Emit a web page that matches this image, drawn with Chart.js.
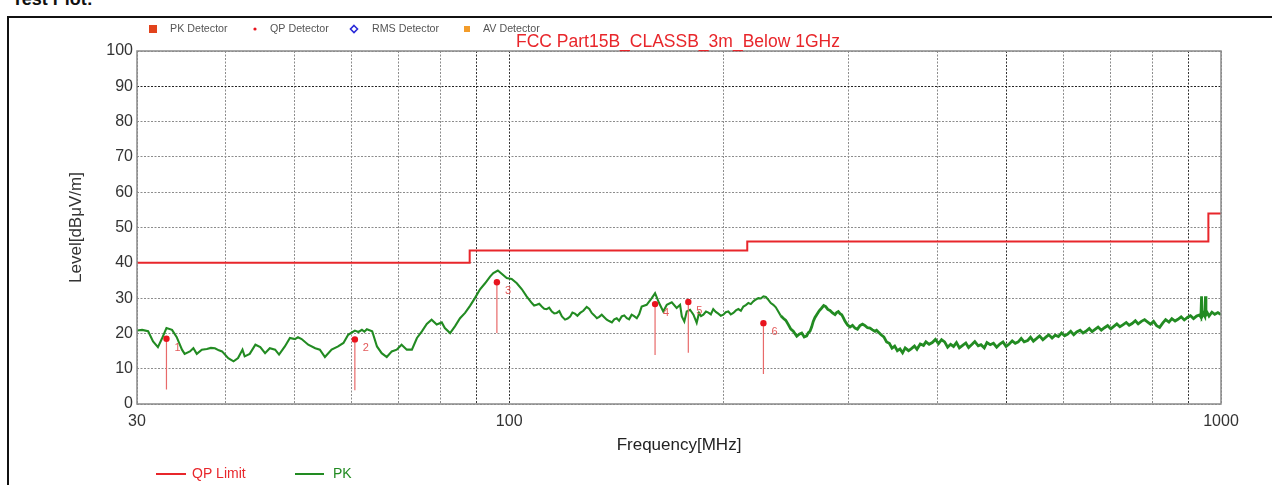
<!DOCTYPE html>
<html>
<head>
<meta charset="utf-8">
<script src="https://cdn.jsdelivr.net/npm/chart.js@4/dist/chart.umd.min.js"></script>
<style>
  body { margin: 0; background: #fff; overflow: hidden; font-family: Arial, "Liberation Sans", sans-serif; }
  #wrap { position: relative; width: 1272px; height: 485px; overflow: hidden; }
  #frame { position: absolute; left: 7px; top: 16px; width: 1300px; height: 520px; border: 2px solid #111; }
  #head { position: absolute; left: 12px; top: -11px; font: bold 18px Arial, "Liberation Sans", sans-serif; color: #111; }
  canvas { position: absolute; left: 0; top: 0; }
</style>
</head>
<body>
<div id="wrap">
  <div id="head">Test Plot:</div>
  <div id="frame"></div>
  <canvas id="grafica" width="1272" height="485"></canvas>
</div>
<script>
// limite QP (escalon)
const limitFreq = [30, 88, 88, 216, 216, 960, 960, 1000];
const limitLevel = [40, 40, 43.5, 43.5, 46, 46, 54, 54];

// traza PK
const pkFreq = [
  30, 30.5, 31.1, 31.6, 32.1, 32.5, 33.0, 33.6, 34.1, 34.7, 35.0, 35.6, 36.0, 36.4, 37.0, 37.6, 38.1, 38.6, 39.1, 39.5,
  40.3, 41.0, 41.6, 42.2, 42.5, 43.2, 44.0, 44.7, 45.4, 46.1, 46.9, 47.5, 48.4, 49.2, 50.0, 50.5, 51.1, 52.2, 53.4,
  54.2, 55.1, 56.3, 57.5, 58.5, 59.4, 60.7, 61.4, 62.1, 62.6, 63.1, 64.2, 65.2, 66.2, 67.3, 68.4, 69.5, 70.6, 71.8, 73.0,
  74.2, 75.4, 76.6, 77.8, 79.1, 80.4, 81.2, 82.6, 83.9, 85.3, 86.7, 88.1, 89.5, 91.0, 92.5, 94.0, 95.0, 96.4,
  97.6, 99.2, 100.8, 102.5, 104.2, 105.8, 107.6,
  108.4, 109.3, 110.2, 111.1, 112.0, 112.9, 113.8, 114.8, 115.7, 116.6, 117.6, 118.6, 119.8, 120.8, 121.8, 122.7,
  123.7, 124.7, 125.8, 127.1, 128.5, 129.6, 130.6, 131.7, 132.8, 133.8, 134.9, 136.0, 137.1, 138.2, 139.4, 140.5,
  141.6, 142.7, 143.9, 145.1, 146.3, 147.4, 148.6, 149.8, 151.1, 152.3, 153.5, 156.0, 158.6, 160.3, 162.4, 164.6,
  166.5, 169.2, 171.9, 173.8, 174.8, 176.2, 177.6, 179.5, 181.5, 183.4, 184.8, 186.0, 187.4, 189.0, 190.5, 192.0,
  193.5, 195.1, 196.7, 198.3, 199.9, 201.5, 203.2, 204.8, 206.5, 208.2, 209.9, 211.6, 213.3, 215.0, 216.8, 218.5,
  220.3, 222.1, 223.9, 225.7, 227.6, 229.4, 231.3, 233.1, 235.0, 236.9, 238.8, 240.7, 242.7, 244.7, 246.7, 248.7,
  250.7, 253.5, 255.5, 257.6, 259.7, 261.8, 263.2, 264.6, 266.0, 267.4, 268.9, 270.4, 272.6, 274.8, 276.6, 278.4,
  280.3, 282.3, 284.6, 286.9, 288.4, 290.0, 291.6, 293.2, 294.8, 296.4, 298.8, 301.2, 303.6, 306.1, 308.5, 311.0,
  313.6, 316.2, 318.7, 321.3, 323.9, 326.5, 328.2,
  330, 333, 336, 339, 342, 345, 348, 351, 354, 357, 360, 364, 367, 371, 374, 378, 382, 385, 389, 393, 397, 401,
  405, 409, 413, 417, 421, 425, 429, 434, 438, 442, 447, 451, 456, 460, 465, 469, 474, 479, 484, 489, 494, 499,
  504, 509, 514, 519, 524, 529, 535, 540, 545, 551, 556, 562, 568, 573, 579, 585, 591, 597, 603, 609, 615, 621,
  627, 634, 640, 646, 653, 659, 666, 672, 679, 686, 693, 700, 707, 714, 721, 728, 736, 743, 750, 758, 765, 773,
  781, 789, 796, 804, 812, 820, 828, 836, 845, 853, 862, 870, 879, 888, 897, 906, 915, 924, 933, 937, 939,
  940.5, 945, 949, 951, 952.5, 957, 962, 971, 980, 990, 1000
];
const pkLevel = [
  20.8, 21.0, 20.6, 17.7, 16.1, 18.4, 21.5, 21.0, 19.0, 15.4, 14.2, 14.9, 15.8, 14.2, 15.4, 15.6, 15.9, 15.8, 15.2, 14.9,
  13.0, 12.1, 13.0, 15.4, 13.5, 14.2, 16.8, 16.1, 14.4, 15.8, 15.4, 14.0, 16.3, 18.7, 18.4, 18.9, 18.4, 16.8, 15.8,
  15.4, 13.3, 15.4, 16.3, 17.3, 19.6, 20.8, 20.4, 21.0, 20.5, 21.2, 20.6, 16.3, 14.4, 13.3, 14.9, 15.4, 16.8, 15.4, 15.4,
  18.7, 20.6, 22.7, 23.9, 22.5, 23.1, 21.5, 20.1, 22.0, 24.3, 25.8, 27.8, 30.0, 32.5, 34.2, 36.1, 37.1, 37.8,
  36.9, 35.7, 35.4, 34.2, 32.5, 30.5, 28.6,
  27.9, 28.1, 28.4, 27.6, 27.0, 26.9, 27.3, 26.2, 25.7, 25.8, 26.3, 24.8, 23.9, 24.2, 24.8, 25.9,
  25.6, 25.0, 25.8, 26.4, 27.5, 26.9, 25.8, 25.1, 24.3, 24.7, 25.3, 24.6, 23.9, 23.5, 23.1, 24.0,
  24.3, 23.6, 24.8, 25.1, 24.3, 24.0, 25.3, 24.9, 24.3, 25.5, 27.6, 28.1, 30.0, 31.4, 28.6, 26.2,
  28.1, 28.8, 27.2, 28.1, 24.8, 23.4, 26.2, 26.7, 25.3, 23.0, 25.8, 24.9, 25.3, 26.2, 25.9, 25.4,
  26.9, 26.1, 25.6, 25.0, 25.3, 26.0, 26.2, 25.4, 25.8, 26.5, 26.9, 26.4, 27.6, 28.0, 28.6, 28.3,
  29.1, 29.6, 30.0, 29.9, 30.5, 30.3, 29.5, 28.6, 28.1, 27.4, 26.2, 25.0, 24.3, 23.7, 22.5, 21.2,
  20.6, 19.2, 19.8, 20.1, 19.0, 19.3, 20.2, 20.6, 21.8, 23.4, 24.5, 25.3, 26.4, 27.2, 27.9, 27.6,
  26.8, 26.5, 25.8, 25.3, 25.9, 26.2, 25.6, 25.3, 24.4, 23.4, 22.4, 21.8, 22.3, 21.5, 21.2, 22.2,
  22.6, 22.2, 21.6, 21.5, 21.0, 20.6, 20.9,
  20.4, 19.6, 19.0, 17.6, 17.2, 15.8, 16.4, 15.1, 15.6, 14.5, 15.9, 15.1, 15.6, 16.4, 15.5, 17.0, 16.6, 17.6, 16.9, 17.4, 18.3, 17.1,
  18.2, 17.6, 16.1, 16.9, 16.3, 17.4, 15.9, 16.7, 17.3, 16.0, 16.9, 17.7, 16.5, 16.8, 15.9, 17.4, 16.8, 17.2, 16.1, 17.0, 17.6, 16.3,
  17.0, 17.9, 17.2, 17.6, 18.6, 17.6, 18.0, 18.9, 17.8, 18.6, 19.3, 18.2, 19.0, 19.6, 18.7, 19.5, 19.1, 20.1, 19.3, 19.8, 20.6, 19.6,
  20.4, 20.9, 20.1, 20.6, 21.4, 20.5, 21.2, 21.8, 20.9, 21.6, 22.2, 21.3, 22.0, 22.7, 21.9, 22.4, 23.1, 22.3, 22.8, 23.6, 22.7, 23.4,
  23.9, 23.2, 22.6, 23.4, 22.2, 21.7, 22.9, 23.9, 23.2, 24.2, 23.5, 24.0, 24.7, 23.8, 24.5, 25.0, 24.2, 24.9, 25.2, 24.6, 30.5,
  24.8, 25.6, 24.9, 30.5, 25.2, 25.8, 24.9, 26.0, 25.4, 25.9, 25.3
];

// marcadores QP
const qpFreq = [33.0, 60.7, 96.1, 160.3, 178.5, 227.6];
const qpLevel = [18.5, 18.3, 34.5, 28.3, 28.9, 22.9];
const qpNum = ["1", "2", "3", "4", "5", "6"];
const stickDrop = 14.4;

// ejes
const xTicks = [30, 40, 50, 60, 70, 80, 90, 100, 200, 300, 400, 500, 600, 700, 800, 900, 1000];
const xLabels = [30, 100, 1000];
const xDark = [90, 100, 500, 900];
const yDark = [90];

const limitData = limitFreq.map((f, i) => ({ x: f, y: limitLevel[i] }));
const pkData = pkFreq.map((f, i) => ({ x: f, y: pkLevel[i] }));
const qpData = qpFreq.map((f, i) => ({ x: f, y: qpLevel[i] }));
const stickData = [];
qpFreq.forEach((f, i) => {
  stickData.push({ x: f, y: qpLevel[i] }, { x: f, y: qpLevel[i] - stickDrop }, { x: f, y: null });
});

const FONT = 'Arial, "Liberation Sans", sans-serif';

// textos fuera del grafico: leyendas, titulo, numeros de marcador
const adornos = {
  id: 'adornos',
  afterDraw(chart) {
    const { ctx, chartArea: a, scales: { x, y } } = chart;
    ctx.save();
    ctx.strokeStyle = '#8a8a8a';
    ctx.lineWidth = 1.5;
    ctx.strokeRect(a.left, a.top, a.right - a.left, a.bottom - a.top);

    // numeros de marcadores
    ctx.fillStyle = '#e35a5a';
    ctx.font = '11px ' + FONT;
    ctx.textBaseline = 'middle';
    ctx.textAlign = 'left';
    qpFreq.forEach((f, i) => {
      ctx.fillText(qpNum[i], x.getPixelForValue(f) + 8, y.getPixelForValue(qpLevel[i]) + 9);
    });

    // leyenda superior
    ctx.font = '10.7px ' + FONT;
    ctx.fillStyle = '#555';
    ctx.fillText('PK Detector', 170, 29);
    ctx.fillText('QP Detector', 270, 29);
    ctx.fillText('RMS Detector', 372, 29);
    ctx.fillText('AV Detector', 483, 29);
    ctx.fillStyle = '#e2431c';
    ctx.fillRect(149, 25, 8, 8);
    ctx.fillStyle = '#e8141e';
    ctx.beginPath(); ctx.arc(255, 29, 1.6, 0, Math.PI * 2); ctx.fill();
    ctx.strokeStyle = '#2a2ad8';
    ctx.lineWidth = 1.6;
    ctx.beginPath();
    ctx.moveTo(354, 25.5); ctx.lineTo(357.5, 29); ctx.lineTo(354, 32.5); ctx.lineTo(350.5, 29); ctx.closePath();
    ctx.stroke();
    ctx.fillStyle = '#f39c2a';
    ctx.fillRect(464, 26, 6, 6);

    // titulo
    ctx.fillStyle = '#e8262b';
    ctx.font = '17.5px ' + FONT;
    ctx.fillText('FCC Part15B_CLASSB_3m_Below 1GHz', 516, 42);

    // leyenda inferior
    ctx.lineWidth = 2;
    ctx.strokeStyle = '#e8262b';
    ctx.beginPath(); ctx.moveTo(156, 474); ctx.lineTo(186, 474); ctx.stroke();
    ctx.strokeStyle = '#228b22';
    ctx.beginPath(); ctx.moveTo(295, 474); ctx.lineTo(324, 474); ctx.stroke();
    ctx.font = '14px ' + FONT;
    ctx.fillStyle = '#e8262b';
    ctx.fillText('QP Limit', 192, 474);
    ctx.fillStyle = '#228b22';
    ctx.fillText('PK', 333, 474);
    ctx.restore();
  }
};

const ctx = document.getElementById('grafica').getContext('2d');
new Chart(ctx, {
  type: 'line',
  data: {
    datasets: [
      {
        label: 'QP Detector', type: 'scatter', data: qpData, order: 0,
        pointRadius: 3.2, pointHoverRadius: 3.2, backgroundColor: '#e8141e', borderWidth: 0
      },
      {
        label: 'sticks', data: stickData, order: 1, spanGaps: false,
        borderColor: '#e86a6a', borderWidth: 1.2, pointRadius: 0
      },
      {
        label: 'QP Limit', data: limitData, order: 2,
        borderColor: '#e8262b', borderWidth: 2, pointRadius: 0, tension: 0
      },
      {
        label: 'PK', data: pkData, order: 3,
        borderColor: '#228b22', borderWidth: 2.1, pointRadius: 0, tension: 0,
        // la traza se ve mas gruesa (ruido) por encima de ~240 MHz
        segment: { borderWidth: s => s.p0.parsed.x > 240 ? 2.8 : 2.1 }
      }
    ]
  },
  options: {
    responsive: false,
    animation: false,
    devicePixelRatio: 1,
    layout: { padding: { left: 0, top: 51, right: 51, bottom: 0 } },
    plugins: {
      legend: { display: false },
      tooltip: { enabled: false }
    },
    scales: {
      x: {
        type: 'logarithmic',
        min: 30,
        max: 1000,
        afterBuildTicks: scale => { scale.ticks = xTicks.map(v => ({ value: v })); },
        afterFit: scale => { scale.height = 81; },
        ticks: {
          autoSkip: false,
          maxRotation: 0,
          padding: 8,
          color: '#333',
          font: { size: 16, family: FONT },
          callback: v => xLabels.includes(v) ? String(v) : ''
        },
        grid: {
          drawTicks: false,
          color: c => xDark.includes(c.tick.value) ? '#333' : '#8c8c8c',
          lineWidth: 1
        },
        border: { display: false, dash: [2, 1.5] },
        title: {
          display: true,
          text: 'Frequency[MHz]',
          color: '#222',
          font: { size: 17, family: FONT },
          padding: { top: 0, bottom: 29 }
        }
      },
      y: {
        min: 0,
        max: 100,
        afterFit: scale => { scale.width = 137; },
        ticks: {
          stepSize: 10,
          padding: 4,
          color: '#333',
          font: { size: 16, family: FONT }
        },
        grid: {
          drawTicks: false,
          color: c => yDark.includes(c.tick.value) ? '#222' : '#8c8c8c',
          lineWidth: 1
        },
        border: { display: false, dash: [2, 1.5] },
        title: {
          display: true,
          text: 'Level[dBμV/m]',
          color: '#333',
          font: { size: 17, family: FONT },
          padding: { top: 66, bottom: 0 }
        }
      }
    }
  },
  plugins: [adornos]
});
</script>
</body>
</html>
